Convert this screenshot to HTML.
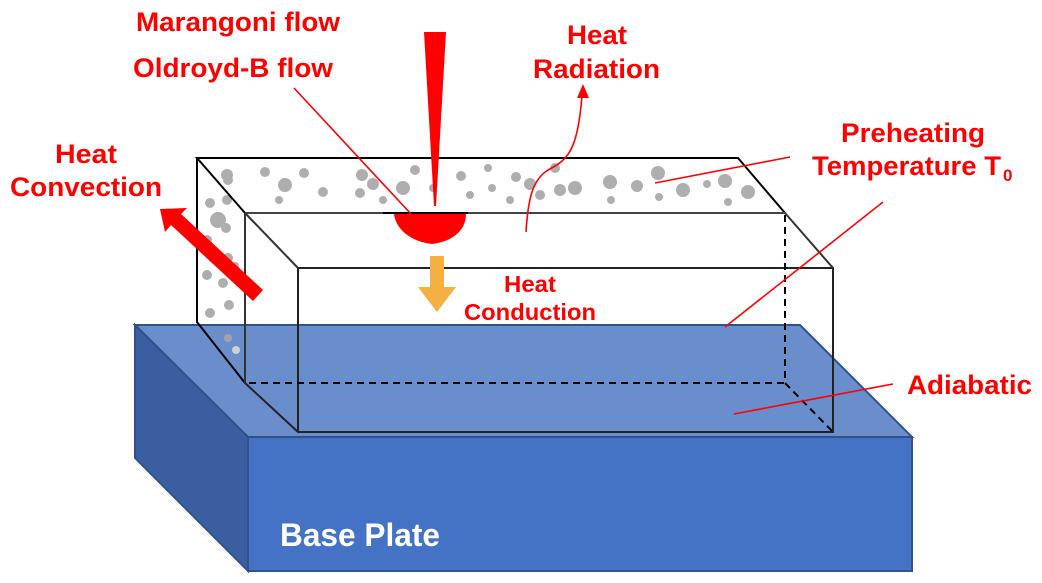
<!DOCTYPE html>
<html><head><meta charset="utf-8"><style>
html,body{margin:0;padding:0;background:#fff;width:1042px;height:583px;overflow:hidden}
text{font-family:"Liberation Sans",Arial,sans-serif;font-weight:bold}
</style></head><body>
<svg width="1042" height="583" viewBox="0 0 1042 583" xmlns="http://www.w3.org/2000/svg">
<!-- base plate -->
<polygon points="135,325 800,325 912,437 248,437" fill="#6a8dcc" stroke="#2f528f" stroke-width="2"/>
<polygon points="248,437 912,437 912,571 248,571" fill="#4472c4" stroke="#2f528f" stroke-width="2"/>
<polygon points="135,325 248,437 248,571 135,458" fill="#3a5ea0" stroke="#2f528f" stroke-width="2"/>
<text x="280" y="546" font-size="32" fill="#fff" textLength="160" lengthAdjust="spacingAndGlyphs">Base Plate</text>
<!-- powder particles -->
<g fill="#a6a6a6" opacity="0.9">
<circle cx="227" cy="175" r="6"/><circle cx="265" cy="172" r="5"/><circle cx="285" cy="185" r="7"/><circle cx="304" cy="173" r="5"/><circle cx="323" cy="192" r="5"/><circle cx="279" cy="200" r="4"/><circle cx="362" cy="175" r="6"/><circle cx="360" cy="193" r="5"/><circle cx="373" cy="184" r="6"/><circle cx="403" cy="188" r="7"/><circle cx="415" cy="170" r="5"/><circle cx="383" cy="200" r="4"/><circle cx="433" cy="188" r="4"/><circle cx="461" cy="176" r="5"/><circle cx="470" cy="195" r="4"/><circle cx="488" cy="168" r="4"/><circle cx="492" cy="188" r="4"/><circle cx="510" cy="200" r="4"/><circle cx="516" cy="177" r="5"/><circle cx="530" cy="184" r="6"/><circle cx="540" cy="195" r="5"/><circle cx="555" cy="168" r="5"/><circle cx="560" cy="190" r="6"/><circle cx="575" cy="188" r="7"/><circle cx="610" cy="182" r="7"/><circle cx="611" cy="200" r="4"/><circle cx="637" cy="186" r="6"/><circle cx="658" cy="173" r="7"/><circle cx="659" cy="197" r="4"/><circle cx="683" cy="190" r="7"/><circle cx="707" cy="184" r="4"/><circle cx="725" cy="181" r="7"/><circle cx="728" cy="202" r="4"/><circle cx="748" cy="192" r="7"/>
<circle cx="228" cy="180" r="5"/><circle cx="210" cy="203" r="5"/><circle cx="227" cy="200" r="5"/><circle cx="218" cy="220" r="8"/><circle cx="226" cy="228" r="5"/><circle cx="207" cy="240" r="5"/><circle cx="228" cy="258" r="5"/><circle cx="207" cy="275" r="5"/><circle cx="223" cy="283" r="5"/><circle cx="235" cy="266" r="4"/><circle cx="210" cy="313" r="5"/><circle cx="229" cy="305" r="5"/><circle cx="228" cy="338" r="4"/>
</g>
<circle cx="236" cy="350" r="4" fill="#d0d0d0"/>
<!-- powder box -->
<g fill="none" stroke="#000" stroke-width="2">
<polyline points="245,213 197,158 738,158 785,213"/>
<polyline points="197,158 197,322 245,383"/>
<line x1="245" y1="213" x2="785" y2="213" stroke="#444"/>
<line x1="245" y1="213" x2="245" y2="383" stroke="#333"/>
<polyline points="245,383 298,432 833,432 833,268 298,268 298,432" stroke="#222"/>
<line x1="245" y1="213" x2="298" y2="268" stroke="#333"/>
<line x1="785" y1="213" x2="833" y2="268" stroke="#333"/>
<g stroke-dasharray="7,5">
<line x1="249" y1="383" x2="785" y2="383"/>
<line x1="785" y1="215" x2="785" y2="383"/>
<line x1="785" y1="383" x2="833" y2="432"/>
</g>
</g>
<!-- melt pool -->
<line x1="383" y1="213" x2="468" y2="213" stroke="#000" stroke-width="2"/>
<path d="M394,214 L466,214 C466,232 450,242 432,244 C412,242 396,230 394,214 Z" fill="#ff0000"/>
<!-- laser -->
<polygon points="424,32 446,32 436,206 434,206" fill="#ff0000"/>
<!-- lines -->
<g stroke="#ff0000" stroke-width="1.6" fill="none">
<line x1="294" y1="88" x2="411" y2="214"/>
<path d="M526,232 C528,200 532,180 548,170 C568,160 578,150 582,95"/>
<line x1="655" y1="183" x2="790" y2="157"/>
<line x1="725" y1="327" x2="883" y2="202"/>
<line x1="734" y1="414" x2="893" y2="384"/>
</g>
<polygon points="583,84 577,98 589,98" fill="#ff0000"/>
<!-- convection arrow -->
<polygon points="160,209 187,208 181,214 263,290 253,301 171,225 165,232" fill="#ff0000"/>
<!-- conduction arrow -->
<polygon points="430,256 444,256 444,287 456,287 437,312 418,287 430,287" fill="#f4b042"/>
<!-- labels -->
<g fill="#ff0000">
<text x="136" y="31" font-size="27" textLength="204" lengthAdjust="spacingAndGlyphs">Marangoni flow</text>
<text x="133" y="77" font-size="27" textLength="200" lengthAdjust="spacingAndGlyphs">Oldroyd-B flow</text>
<text x="567" y="44" font-size="27" textLength="60" lengthAdjust="spacingAndGlyphs">Heat</text>
<text x="533" y="78" font-size="27" textLength="127" lengthAdjust="spacingAndGlyphs">Radiation</text>
<text x="55" y="163" font-size="27" textLength="62" lengthAdjust="spacingAndGlyphs">Heat</text>
<text x="10" y="196" font-size="27" textLength="152" lengthAdjust="spacingAndGlyphs">Convection</text>
<text x="841" y="142" font-size="27" textLength="144" lengthAdjust="spacingAndGlyphs">Preheating</text>
<text x="812" y="175" font-size="27" textLength="189" lengthAdjust="spacingAndGlyphs">Temperature T</text>
<text x="1003" y="181" font-size="17">0</text>
<text x="504" y="292" font-size="23" textLength="52" lengthAdjust="spacingAndGlyphs">Heat</text>
<text x="464" y="320" font-size="23" textLength="132" lengthAdjust="spacingAndGlyphs">Conduction</text>
<text x="907" y="394" font-size="27" textLength="125" lengthAdjust="spacingAndGlyphs">Adiabatic</text>
</g>
</svg>
</body></html>
